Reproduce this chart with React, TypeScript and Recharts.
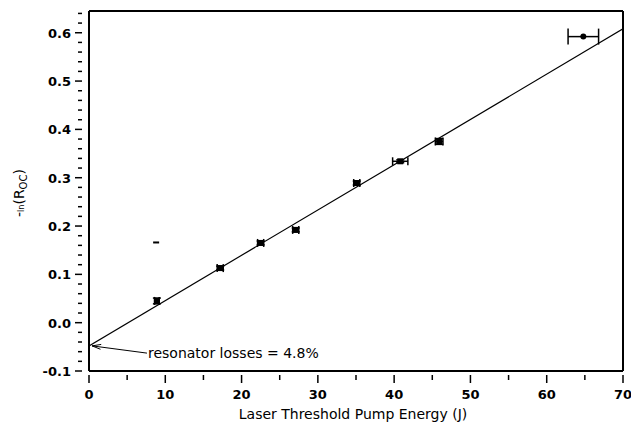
import { ComposedChart, Scatter, Line, XAxis, YAxis, ErrorBar, ReferenceLine, ReferenceDot } from 'recharts'

// measured points: pump energy (J) vs -ln(R_oc)
const energy = [8.9, 17.2, 22.5, 27.1, 35.1, 40.8, 45.9, 64.8]
const lossVal = [0.045, 0.113, 0.165, 0.192, 0.289, 0.334, 0.375, 0.592]
const energyErr = [0.3, 0.4, 0.4, 0.4, 0.4, 1.0, 0.5, 2.0]
const lossErr = [0.006, 0.004, 0.004, 0.004, 0.004, 0.003, 0.006, 0.0]

// stray point
const strayX = [8.8]
const strayY = [0.166]

// linear fit endpoints
const fitX = [0, 70]
const fitY = [-0.048, 0.608]

const xTicks = [0, 5, 10, 15, 20, 25, 30, 35, 40, 45, 50, 55, 60, 65, 70]
const yTicks = [-0.1, -0.08, -0.06, -0.04, -0.02, 0, 0.02, 0.04, 0.06, 0.08, 0.1, 0.12, 0.14, 0.16, 0.18, 0.2,
  0.22, 0.24, 0.26, 0.28, 0.3, 0.32, 0.34, 0.36, 0.38, 0.4, 0.42, 0.44, 0.46, 0.48, 0.5, 0.52, 0.54, 0.56, 0.58, 0.6, 0.62, 0.64]

const points = energy.map((x, i) => ({ x, y: lossVal[i], ex: energyErr[i], ey: lossErr[i] }))
const mainPts = points.slice(0, 7)
const lastPt = points.slice(7)
const stray = strayX.map((x, i) => ({ x, y: strayY[i] }))
const fit = fitX.map((x, i) => ({ x, fit: fitY[i] }))

const FONT = '"DejaVu Sans", Verdana, sans-serif'

const isMajor = (v: number, step: number) => Math.abs(Math.round(v / step) * step - v) < 1e-6

const XTick = (props: any) => {
  const { x, y, payload } = props
  const major = isMajor(payload.value, 10)
  return (
    <g>
      <line x1={x} x2={x} y1={y - 4} y2={y + (major ? 4 : 1)} stroke="#000" strokeWidth={1.5} />
      {major && (
        <text x={x} y={y + 20} textAnchor="middle" fontSize={13} fontWeight={600} fontFamily={FONT} fill="#000">
          {payload.value}
        </text>
      )}
    </g>
  )
}

const YTick = (props: any) => {
  const { x, y, payload } = props
  const major = isMajor(payload.value, 0.1)
  if (payload.value > 0.645) return null
  return (
    <g>
      <line x1={x - (major ? 6 : 3)} x2={x + 1} y1={y} y2={y} stroke="#000" strokeWidth={1.5} />
      {major && (
        <text x={x - 10} y={y + 5} textAnchor="end" fontSize={13} fontWeight={600} fontFamily={FONT} fill="#000">
          {payload.value.toFixed(1)}
        </text>
      )}
    </g>
  )
}

const Square = (props: any) => {
  const { cx, cy } = props
  return <rect x={cx - 3} y={cy - 3} width={6} height={6} fill="#000" />
}

const Dot = (props: any) => {
  const { cx, cy } = props
  return <circle cx={cx} cy={cy} r={3} fill="#000" />
}

const Dash = (props: any) => {
  const { cx, cy } = props
  return <rect x={cx - 3} y={cy - 1} width={6} height={2} fill="#000" />
}

export default function App() {
  return (
    <div style={{ position: 'absolute', left: 0, top: 0, width: 631, height: 431, background: '#fff' }}>
      <ComposedChart width={631} height={431} margin={{ top: 11, right: 8, bottom: 0, left: 0 }}>
        <XAxis
          type="number"
          dataKey="x"
          domain={[0, 70]}
          ticks={xTicks}
          interval={0}
          allowDataOverflow
          height={60}
          axisLine={{ stroke: '#000', strokeWidth: 2 }}
          tickLine={false}
          tick={<XTick />}
        />
        <YAxis
          type="number"
          domain={[-0.1, 0.645]}
          ticks={yTicks}
          interval={0}
          allowDataOverflow
          width={89}
          axisLine={{ stroke: '#000', strokeWidth: 2 }}
          tickLine={false}
          tick={<YTick />}
        />
        <ReferenceLine x={70} stroke="#000" strokeWidth={2} />
        <ReferenceLine y={0.645} stroke="#000" strokeWidth={2} />
        <Line data={fit} dataKey="fit" stroke="#000" strokeWidth={1.2} dot={false} isAnimationActive={false} />
        <Scatter data={mainPts} dataKey="y" shape={<Square />} isAnimationActive={false}>
          <ErrorBar dataKey="ex" direction="x" width={4} stroke="#000" isAnimationActive={false} />
          <ErrorBar dataKey="ey" direction="y" width={4} stroke="#000" isAnimationActive={false} />
        </Scatter>
        <Scatter data={lastPt} dataKey="y" shape={<Dot />} isAnimationActive={false}>
          <ErrorBar dataKey="ex" direction="x" width={8} stroke="#000" strokeWidth={1.5} isAnimationActive={false} />
        </Scatter>
        <Scatter data={stray} dataKey="y" shape={<Dash />} isAnimationActive={false} />
        <ReferenceLine
          segment={[{ x: 0.4, y: -0.048 }, { x: 7.6, y: -0.063 }]}
          stroke="#000"
          strokeWidth={1}
        />
        <ReferenceLine
          segment={[{ x: 0.4, y: -0.048 }, { x: 1.6, y: -0.045 }]}
          stroke="#000"
          strokeWidth={1}
        />
        <ReferenceLine
          segment={[{ x: 0.4, y: -0.048 }, { x: 1.5, y: -0.055 }]}
          stroke="#000"
          strokeWidth={1}
        />
        <ReferenceDot
          x={7.6}
          y={-0.063}
          r={0}
          label={{ value: 'resonator losses = 4.8%', position: 'right', offset: 1, fontSize: 14, fontFamily: FONT, fill: '#000' }}
        />
      </ComposedChart>
      <div
        style={{
          position: 'absolute',
          left: 0,
          top: 406,
          width: 706,
          textAlign: 'center',
          fontFamily: FONT,
          fontSize: 14,
        }}
      >
        Laser Threshold Pump Energy (J)
      </div>
      <div
        style={{
          position: 'absolute',
          left: 20,
          top: 193,
          transform: 'translate(-50%, -50%) rotate(-90deg)',
          whiteSpace: 'nowrap',
          fontFamily: FONT,
          fontSize: 14,
        }}
      >
        -<span style={{ fontSize: 8 }}>ln</span>(R<sub style={{ fontSize: 10 }}>OC</sub>)
      </div>
    </div>
  )
}
